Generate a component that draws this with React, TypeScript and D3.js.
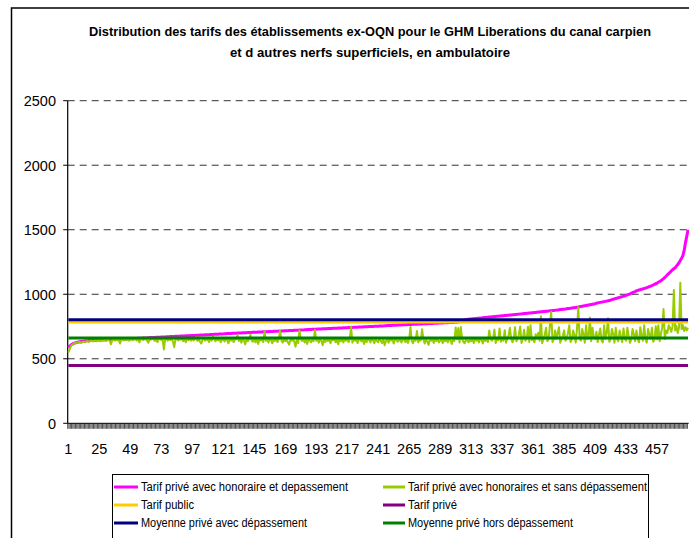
import React from 'react';
import * as d3 from 'd3';

const W = 689;
const H = 538;

const titleLines = [
  'Distribution des tarifs des établissements ex-OQN pour le GHM Liberations du canal carpien',
  'et d autres nerfs superficiels, en ambulatoire',
];

// Tarif privé avec honoraire et depassement (sorted)
const magentaValues = [
  588, 598, 606, 613, 618, 622, 625, 628, 630, 632, 634, 635, 637, 638, 639, 640, 641, 642, 642, 643, 644, 644, 645, 645,
  646, 646, 647, 647, 647, 648, 648, 649, 649, 650, 650, 650, 651, 651, 652, 652, 652, 653, 653, 654, 654, 654, 655, 655,
  656, 656, 657, 657, 658, 658, 659, 659, 660, 660, 661, 661, 662, 662, 663, 663, 664, 664, 665, 665, 666, 666, 667, 667,
  668, 668, 669, 669, 670, 670, 671, 672, 672, 673, 673, 674, 674, 675, 675, 676, 676, 677, 677, 678, 678, 679, 679, 680,
  680, 681, 681, 682, 682, 683, 684, 684, 685, 685, 686, 686, 687, 687, 688, 689, 689, 690, 690, 691, 691, 692, 692, 693,
  693, 694, 694, 695, 695, 696, 696, 697, 697, 698, 698, 699, 699, 700, 700, 701, 701, 702, 702, 703, 703, 704, 704, 705,
  705, 706, 706, 707, 707, 708, 708, 709, 709, 710, 710, 711, 711, 712, 712, 713, 713, 714, 714, 715, 715, 716, 716, 717,
  717, 718, 718, 719, 719, 720, 720, 721, 721, 722, 722, 723, 723, 724, 724, 725, 725, 726, 726, 727, 727, 728, 728, 729,
  729, 730, 730, 731, 731, 732, 732, 733, 733, 734, 734, 735, 735, 736, 736, 737, 737, 738, 738, 739, 739, 740, 740, 741,
  741, 742, 742, 743, 743, 744, 744, 745, 745, 746, 746, 747, 747, 748, 748, 749, 749, 750, 750, 751, 751, 752, 752, 753,
  753, 754, 754, 755, 755, 756, 756, 757, 757, 758, 758, 759, 759, 760, 760, 761, 761, 762, 762, 763, 763, 764, 764, 765,
  765, 766, 766, 767, 767, 768, 768, 769, 769, 770, 770, 771, 771, 772, 772, 773, 773, 774, 774, 775, 775, 776, 776, 777,
  777, 778, 778, 779, 779, 780, 780, 781, 781, 782, 782, 783, 783, 784, 785, 788, 791, 794, 797, 800, 802, 804, 806, 808,
  809, 810, 811, 812, 813, 814, 815, 816, 817, 818, 819, 820, 821, 822, 823, 824, 825, 826, 827, 828, 829, 830, 831, 832,
  833, 834, 835, 836, 837, 838, 839, 840, 841, 842, 843, 844, 845, 846, 847, 848, 849, 850, 851, 852, 853, 854, 855, 856,
  857, 858, 859, 861, 862, 863, 864, 865, 866, 867, 868, 869, 870, 872, 873, 874, 875, 876, 877, 878, 880, 881, 882, 883,
  884, 885, 887, 889, 890, 892, 893, 895, 896, 898, 900, 901, 903, 905, 907, 909, 911, 913, 915, 917, 919, 921, 923, 925,
  927, 930, 933, 935, 937, 939, 941, 943, 945, 947, 949, 952, 955, 958, 961, 964, 967, 970, 973, 976, 979, 982, 985, 988,
  991, 995, 999, 1003, 1008, 1012, 1017, 1021, 1026, 1030, 1033, 1036, 1039, 1042, 1045, 1048, 1051, 1055, 1059, 1063, 1067, 1072, 1077, 1082,
  1087, 1093, 1099, 1105, 1113, 1121, 1130, 1140, 1150, 1160, 1170, 1180, 1190, 1198, 1205, 1218, 1230, 1245, 1262, 1280, 1300, 1340, 1400, 1450,
  1500,
];

// Tarif privé avec honoraires et sans dépassement
const greenValues = [
  548, 572, 598, 610, 615, 620, 624, 626, 628, 630, 622, 632, 634, 628, 636, 637, 630, 638, 640, 634, 640, 641, 636, 642,
  643, 636, 644, 640, 645, 638, 645, 646, 640, 612, 646, 647, 641, 648, 644, 648, 618, 647, 649, 642, 650, 646, 651, 640,
  650, 652, 644, 651, 653, 641, 652, 628, 651, 653, 645, 654, 652, 640, 624, 653, 648, 655, 652, 638, 654, 630, 652, 655,
  646, 653, 572, 652, 655, 640, 654, 646, 653, 635, 590, 652, 655, 642, 653, 648, 655, 636, 652, 628, 654, 645, 653, 640,
  655, 642, 653, 668, 638, 654, 632, 618, 652, 655, 640, 653, 646, 630, 654, 641, 672, 652, 636, 653, 644, 654, 628, 648,
  653, 634, 655, 645, 620, 653, 640, 654, 630, 648, 653, 684, 638, 654, 625, 655, 642, 612, 653, 636, 654, 688, 640, 632,
  653, 628, 654, 615, 652, 642, 655, 630, 712, 640, 653, 626, 654, 646, 620, 653, 638, 655, 630, 652, 718, 644, 625, 653,
  636, 654, 628, 610, 652, 640, 655, 632, 594, 652, 622, 720, 653, 638, 654, 626, 651, 615, 653, 640, 628, 654, 636, 724,
  640, 653, 625, 654, 642, 605, 652, 630, 655, 638, 653, 620, 652, 644, 654, 628, 651, 612, 653, 636, 655, 626, 652, 640,
  654, 630, 651, 750, 625, 653, 640, 655, 622, 648, 653, 636, 654, 615, 652, 630, 650, 653, 626, 655, 642, 620, 653, 638,
  628, 654, 640, 622, 653, 605, 638, 655, 624, 652, 642, 654, 618, 651, 653, 632, 640, 655, 626, 649, 654, 630, 651, 622,
  653, 746, 636, 620, 654, 640, 715, 628, 653, 642, 728, 652, 618, 654, 635, 608, 653, 640, 655, 622, 652, 638, 654, 626,
  640, 653, 620, 655, 636, 652, 628, 654, 642, 615, 653, 638, 742, 652, 738, 626, 746, 653, 632, 620, 654, 640, 628, 653,
  636, 652, 622, 655, 640, 653, 626, 654, 650, 618, 653, 638, 655, 630, 720, 652, 640, 654, 726, 622, 653, 645, 735, 632,
  654, 640, 722, 625, 653, 680, 740, 655, 628, 652, 745, 636, 654, 690, 750, 622, 653, 725, 640, 655, 748, 630, 760, 645,
  653, 628, 690, 655, 702, 640, 830, 620, 654, 685, 740, 636, 651, 760, 865, 630, 650, 720, 654, 698, 745, 625, 653, 678,
  720, 640, 655, 700, 760, 630, 650, 720, 682, 626, 738, 900, 652, 640, 730, 690, 625, 760, 652, 675, 820, 636, 740, 660,
  655, 710, 630, 688, 735, 642, 626, 760, 654, 700, 815, 632, 651, 730, 690, 624, 740, 654, 636, 720, 670, 628, 735, 653,
  640, 740, 680, 624, 651, 730, 690, 636, 720, 652, 628, 745, 676, 640, 760, 653, 625, 730, 688, 654, 740, 632, 653, 752,
  652, 760, 636, 690, 745, 885, 653, 720, 700, 760, 740, 710, 750, 1033, 720, 755, 700, 740, 1089, 730, 760, 715, 745, 720,
  740,
];

const tarifPublic = [783];
const tarifPrive = [447];
const moyenneAvecDep = [802];
const moyenneHorsDep = [662];

const categories = d3.range(1, magentaValues.length + 1);
const xTickLabels = [1, 25, 49, 73, 97, 121, 145, 169, 193, 217, 241, 265, 289, 313, 337, 361, 385, 409, 433, 457];
const yTicks = [0, 500, 1000, 1500, 2000, 2500];

const legendNames = [
  'Tarif privé avec honoraire et depassement',
  'Tarif privé avec honoraires et sans dépassement',
  'Tarif public',
  'Tarif privé',
  'Moyenne privé avec dépassement',
  'Moyenne privé hors dépassement',
];
const legendColors = ['#FF00FF', '#99CC00', '#FFCC00', '#800080', '#000080', '#008000'];
const legendTextWidths = [207, 239, 53, 49, 166, 165];

export default function App() {
  const left = 67.7;
  const right = 688.7;
  const top = 100.7;
  const bottom = 423.3;

  const x = d3.scaleBand<number>().domain(categories).range([left, right]).padding(0);
  const y = d3.scaleLinear().domain([0, 2500]).range([bottom, top]);
  const cx = (c: number) => (x(c) as number) + x.bandwidth() / 2;

  const seriesLine = d3
    .line<number>()
    .x((_, i) => cx(categories[i]))
    .y((d) => y(d));

  const hLine = (v: number) => seriesLine(categories.map(() => v)) as string;

  const font = 'Arial, "Liberation Sans", sans-serif';

  const legendRowsY = [487, 505, 523];
  const legendColX = [114, 383];

  return (
    <svg
      width={W}
      height={H}
      viewBox={`0 0 ${W} ${H}`}
      style={{ position: 'absolute', left: 0, top: 0, background: '#fff' }}
      fontFamily={font}
    >
      <rect x={0} y={0} width={W} height={H} fill="#fff" />
      {/* outer chart frame */}
      <rect x={11.5} y={8} width={W + 20} height={H + 20} fill="none" stroke="#000" strokeWidth={1.5} />

      {/* title */}
      {titleLines.map((t, i) => (
        <text
          key={i}
          x={370}
          y={36 + i * 21}
          textAnchor="middle"
          fontSize={12}
          fontWeight="bold"
          textLength={i === 0 ? 562 : 280}
          lengthAdjust="spacingAndGlyphs"
          fill="#000"
        >
          {t}
        </text>
      ))}

      {/* gridlines */}
      {yTicks.filter((t) => t > 0).map((t) => (
        <line
          key={t}
          x1={left}
          x2={right}
          y1={y(t)}
          y2={y(t)}
          stroke="#333"
          strokeWidth={1}
          strokeDasharray="7,5"
        />
      ))}

      {/* y axis */}
      <line x1={left} x2={left} y1={top} y2={bottom} stroke="#000" strokeWidth={1.2} />
      {yTicks.map((t) => (
        <g key={t}>
          <line x1={left - 4.5} x2={left} y1={y(t)} y2={y(t)} stroke="#000" strokeWidth={1} />
          <text x={56} y={y(t) + 5.3} textAnchor="end" fontSize={14.5} fill="#000">
            {t}
          </text>
        </g>
      ))}

      {/* x axis */}
      <line x1={left} x2={right} y1={bottom} y2={bottom} stroke="#000" strokeWidth={1} />
      {categories.map((c) => (
        <line
          key={c}
          x1={x(c) as number}
          x2={x(c) as number}
          y1={bottom}
          y2={bottom + 5.5}
          stroke="#000"
          strokeWidth={0.7}
        />
      ))}
      {xTickLabels.map((c) => (
        <text key={c} x={cx(c)} y={454} textAnchor="middle" fontSize={14.5} fill="#000">
          {c}
        </text>
      ))}

      {/* series */}
      <path d={seriesLine(magentaValues) as string} fill="none" stroke="#FF00FF" strokeWidth={3} strokeLinejoin="round" />
      <path d={seriesLine(greenValues) as string} fill="none" stroke="#99CC00" strokeWidth={2} strokeLinejoin="round" />
      <path d={hLine(tarifPublic[0])} fill="none" stroke="#FFCC00" strokeWidth={2.5} />
      <path d={hLine(tarifPrive[0])} fill="none" stroke="#800080" strokeWidth={3} />
      <path d={hLine(moyenneAvecDep[0])} fill="none" stroke="#000080" strokeWidth={3} />
      <path d={hLine(moyenneHorsDep[0])} fill="none" stroke="#008000" strokeWidth={3} />

      {/* legend */}
      <rect x={112.5} y={474.5} width={536} height={80} fill="#fff" stroke="#000" strokeWidth={1} />
      {legendNames.map((name, i) => {
        const col = i % 2;
        const row = Math.floor(i / 2);
        const lx = legendColX[col];
        const ly = legendRowsY[row];
        const len = col === 0 ? 24 : 22;
        return (
          <g key={name}>
            <line x1={lx} x2={lx + len} y1={ly} y2={ly} stroke={legendColors[i]} strokeWidth={3} />
            <text
              x={lx + len + 3}
              y={ly + 4.3}
              fontSize={12}
              textLength={legendTextWidths[i]}
              lengthAdjust="spacingAndGlyphs"
              fill="#000"
            >
              {name}
            </text>
          </g>
        );
      })}
    </svg>
  );
}
